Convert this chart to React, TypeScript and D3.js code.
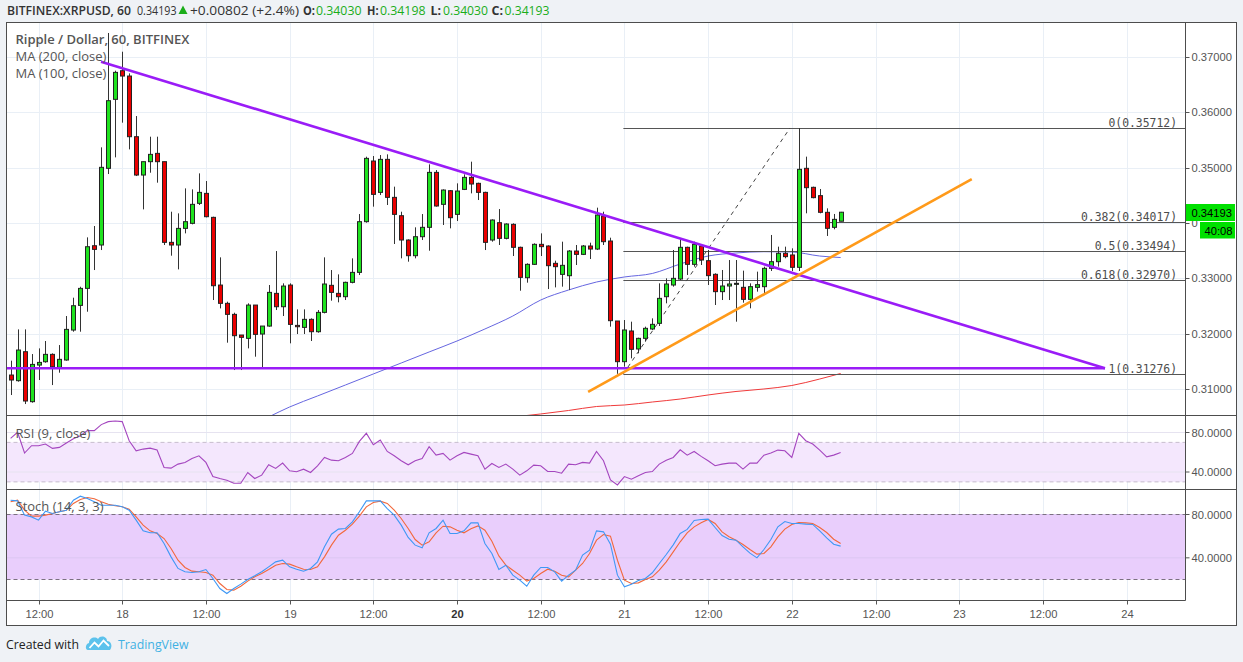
import * as d3 from "d3";

// hourly candles, first one is 17 Aug 08:00 (hour -16 from 18 Aug 00:00)
const BASE = Date.UTC(2018, 7, 18);
const HOUR = 3600e3;
const firstHour = -16;

const opens = [
  0.31254, 0.31152, 0.31675, 0.30773, 0.31434, 0.31494, 0.31627, 0.31392, 0.31525, 0.32066, 0.32511, 0.32818, 0.33588, 0.33601, 0.34985, 0.3623,
  0.36747, 0.36651, 0.35556, 0.34864, 0.35105, 0.35255, 0.35105, 0.33649, 0.33601, 0.33901, 0.33992, 0.34353, 0.34533, 0.341, 0.32878, 0.32548,
  0.32349, 0.31976, 0.31916, 0.32517, 0.31994, 0.32138, 0.32728, 0.32487, 0.32878, 0.3215, 0.32114, 0.32259, 0.32036, 0.32385, 0.32873, 0.32728,
  0.32668, 0.32927, 0.33107, 0.34022, 0.35117, 0.34551, 0.35147, 0.34461, 0.3413, 0.33691, 0.33408, 0.33751, 0.3392, 0.34912, 0.34335, 0.34581,
  0.34154, 0.34605, 0.34822, 0.34714, 0.34551, 0.33691, 0.34004, 0.33721, 0.33974, 0.33559, 0.33011, 0.33252, 0.33613, 0.33583, 0.3327, 0.33071,
  0.33047, 0.33492, 0.33432, 0.33583, 0.33528, 0.34124, 0.33673, 0.32229, 0.31495, 0.32049, 0.31724, 0.31916, 0.32085, 0.32187, 0.32668, 0.32879,
  0.32987, 0.33559, 0.33252, 0.33583, 0.33318, 0.33072, 0.32759, 0.32861, 0.32891, 0.32837, 0.3262, 0.32837, 0.32849, 0.3318, 0.333, 0.33451,
  0.33421, 0.33198, 0.34985, 0.34642, 0.34492, 0.34191, 0.3392, 0.3403,
];
const highs = [
  0.31513, 0.32078, 0.32078, 0.31633, 0.31735, 0.31868, 0.31645, 0.31795, 0.32319, 0.3265, 0.32848, 0.33739, 0.33944, 0.35364, 0.37428, 0.36747,
  0.3709, 0.36699, 0.35929, 0.35105, 0.35556, 0.35556, 0.35105, 0.34202, 0.34172, 0.34623, 0.34605, 0.34894, 0.34756, 0.34112, 0.33378, 0.32578,
  0.32379, 0.31976, 0.32548, 0.32517, 0.32138, 0.32879, 0.33492, 0.32909, 0.32909, 0.32439, 0.32439, 0.32277, 0.32427, 0.33378, 0.33149, 0.33071,
  0.32939, 0.3336, 0.3416, 0.35195, 0.35207, 0.35225, 0.35237, 0.34654, 0.34202, 0.33703, 0.3392, 0.3416, 0.35057, 0.34954, 0.34605, 0.34593,
  0.34714, 0.34876, 0.35105, 0.34726, 0.34563, 0.34064, 0.3425, 0.33992, 0.33992, 0.33571, 0.3327, 0.33631, 0.33811, 0.33595, 0.33318, 0.33661,
  0.3351, 0.33601, 0.33601, 0.33643, 0.34275, 0.34202, 0.33733, 0.32229, 0.32247, 0.32217, 0.31928, 0.32127, 0.32277, 0.32909, 0.32999, 0.33511,
  0.33703, 0.33571, 0.33661, 0.33601, 0.33511, 0.3309, 0.3315, 0.3333, 0.3333, 0.33138, 0.32909, 0.3312, 0.3321, 0.33782, 0.33571, 0.33571,
  0.33541, 0.35712, 0.35196, 0.34654, 0.34612, 0.34263, 0.34161, 0.34198,
];
const lows = [
  0.30893, 0.31134, 0.3073, 0.30755, 0.31164, 0.31476, 0.31073, 0.31296, 0.31513, 0.32036, 0.32036, 0.32397, 0.33149, 0.3351, 0.34882, 0.35183,
  0.35809, 0.35327, 0.34846, 0.34244, 0.34906, 0.34726, 0.33601, 0.33408, 0.33161, 0.33811, 0.33974, 0.34323, 0.341, 0.32608, 0.32457, 0.31838,
  0.31344, 0.31344, 0.31735, 0.31585, 0.31392, 0.32126, 0.32427, 0.32319, 0.31826, 0.31994, 0.31994, 0.31868, 0.32018, 0.32367, 0.32596, 0.32566,
  0.32608, 0.32909, 0.33059, 0.34004, 0.34293, 0.34503, 0.34323, 0.33619, 0.3336, 0.333, 0.3336, 0.33691, 0.33498, 0.34293, 0.33962, 0.33902,
  0.34034, 0.34593, 0.34533, 0.34413, 0.3351, 0.33661, 0.33601, 0.33703, 0.33402, 0.32776, 0.32921, 0.3324, 0.33402, 0.32806, 0.32836, 0.32849,
  0.32788, 0.3324, 0.3342, 0.33348, 0.3351, 0.33601, 0.32127, 0.31276, 0.31405, 0.31555, 0.31646, 0.31856, 0.32067, 0.32139, 0.32548, 0.32849,
  0.32969, 0.3306, 0.3321, 0.3324, 0.32879, 0.32518, 0.32608, 0.32608, 0.32217, 0.3256, 0.32458, 0.32759, 0.32729, 0.33132, 0.3321, 0.33361,
  0.33132, 0.33132, 0.34173, 0.34444, 0.34173, 0.33764, 0.33884, 0.3403,
];
const closes = [
  0.31164, 0.31705, 0.30785, 0.31446, 0.31482, 0.31627, 0.31404, 0.31537, 0.32078, 0.32505, 0.32818, 0.3357, 0.33522, 0.35003, 0.36206, 0.36717,
  0.36651, 0.35556, 0.34864, 0.35105, 0.35237, 0.35105, 0.33649, 0.33601, 0.33901, 0.34022, 0.34335, 0.34551, 0.34112, 0.32866, 0.32548, 0.32349,
  0.31964, 0.31934, 0.32517, 0.31988, 0.32138, 0.32746, 0.32487, 0.3286, 0.32168, 0.32126, 0.32259, 0.32036, 0.32385, 0.32897, 0.32746, 0.32668,
  0.32927, 0.33107, 0.34022, 0.35165, 0.34515, 0.35147, 0.34461, 0.34154, 0.33691, 0.33408, 0.33751, 0.3392, 0.34912, 0.34305, 0.34593, 0.34094,
  0.34575, 0.34822, 0.34702, 0.34551, 0.33649, 0.34052, 0.33721, 0.3398, 0.33559, 0.33017, 0.33252, 0.33613, 0.33571, 0.33228, 0.3321, 0.33234,
  0.33492, 0.33432, 0.33583, 0.33528, 0.34142, 0.33661, 0.32235, 0.31495, 0.32067, 0.31718, 0.31916, 0.32097, 0.32169, 0.32638, 0.32897, 0.32999,
  0.33559, 0.33252, 0.33613, 0.3333, 0.33048, 0.32759, 0.32861, 0.32897, 0.32909, 0.3262, 0.32849, 0.32885, 0.3318, 0.333, 0.33451, 0.33391,
  0.33198, 0.34967, 0.34636, 0.34456, 0.34191, 0.33902, 0.34064, 0.34193,
];

const rsiValues = [
  74.1, 80.2, 59.2, 66.6, 66.6, 68.3, 63.9, 64.9, 69.3, 73.7, 76.8, 81.9, 81.9, 88.0, 91.0, 91.7,
  91.0, 71.7, 61.5, 63.2, 64.2, 62.2, 44.6, 43.9, 48.0, 49.7, 53.7, 56.4, 49.7, 35.4, 33.4, 31.7,
  28.6, 28.6, 39.5, 33.4, 36.8, 47.3, 43.6, 49.0, 41.2, 40.2, 42.9, 39.5, 46.3, 54.7, 52.0, 51.4,
  54.7, 58.8, 71.0, 79.2, 67.6, 72.4, 60.8, 56.4, 51.4, 47.3, 51.4, 53.7, 65.6, 57.1, 58.8, 52.0,
  56.4, 59.8, 58.1, 56.4, 42.9, 48.6, 44.6, 48.0, 42.9, 36.8, 41.2, 46.9, 46.3, 40.5, 40.5, 38.8,
  48.0, 47.3, 49.7, 49.0, 60.8, 51.4, 32.0, 26.9, 35.4, 32.7, 36.1, 39.5, 40.5, 48.0, 52.0, 54.7,
  62.5, 57.1, 60.8, 55.8, 51.4, 46.3, 48.0, 49.0, 49.0, 42.9, 49.0, 49.0, 57.1, 59.2, 62.2, 61.5,
  54.7, 79.2, 71.7, 68.3, 62.2, 55.4, 57.1, 59.8,
];
const stochK = [
  93.2, 92.6, 79.4, 77.8, 74.8, 83.1, 80.9, 82.5, 84.0, 93.2, 96.9, 94.8, 91.7, 88.6, 88.6, 88.6,
  87.1, 84.0, 74.8, 64.9, 63.1, 63.1, 53.2, 40.9, 30.2, 27.1, 26.5, 27.1, 29.2, 20.9, 11.7, 7.1,
  11.7, 15.7, 20.0, 23.4, 27.1, 31.7, 36.3, 37.8, 31.7, 29.5, 27.7, 30.2, 36.3, 50.2, 61.8, 66.5,
  67.1, 73.2, 82.5, 92.6, 92.6, 92.6, 85.5, 79.4, 70.2, 58.8, 51.7, 49.2, 63.1, 67.1, 74.8, 62.5,
  62.5, 64.9, 72.3, 72.3, 53.2, 44.0, 29.2, 33.2, 24.0, 19.4, 13.8, 24.0, 31.1, 31.1, 27.1, 18.5,
  24.0, 28.6, 42.5, 47.1, 64.9, 64.0, 52.6, 24.0, 13.2, 15.7, 19.1, 20.9, 26.2, 34.8, 43.1, 52.0,
  62.5, 66.2, 74.5, 75.4, 75.7, 68.0, 60.6, 57.2, 56.3, 50.2, 44.3, 40.0, 47.7, 56.9, 68.6, 73.5,
  71.7, 71.7, 71.1, 70.8, 64.9, 58.5, 52.6, 50.8,
];
const stochD = [
  91.7, 93.2, 84.0, 78.5, 78.5, 79.4, 80.9, 82.5, 84.0, 90.2, 93.8, 95.7, 94.5, 91.7, 89.5, 88.0,
  87.1, 84.9, 77.8, 70.2, 64.9, 62.5, 57.8, 48.6, 37.8, 31.1, 27.7, 27.1, 26.5, 24.0, 16.3, 10.8,
  10.2, 13.8, 18.5, 22.5, 25.5, 29.2, 33.2, 34.8, 34.2, 31.7, 29.5, 29.2, 31.7, 40.9, 51.7, 60.9,
  65.5, 71.1, 78.5, 87.1, 91.1, 92.3, 90.2, 84.0, 76.3, 67.1, 56.9, 51.7, 54.8, 63.1, 69.2, 68.6,
  65.5, 63.1, 66.8, 69.5, 65.5, 55.4, 41.8, 33.2, 28.6, 24.0, 18.5, 20.9, 25.5, 29.5, 27.7, 24.0,
  22.5, 28.6, 34.8, 44.0, 56.3, 61.5, 60.0, 37.8, 19.4, 16.3, 16.9, 20.0, 22.5, 28.6, 36.3, 45.5,
  54.8, 63.1, 68.6, 72.3, 75.4, 71.7, 64.0, 59.4, 56.3, 52.3, 47.7, 43.4, 44.0, 50.2, 59.4, 66.5,
  70.8, 72.6, 72.3, 71.7, 68.0, 63.4, 57.2, 53.2,
];

// moving averages, read at every 4th hour
const ma100Hours = [21, 24, 28, 32, 36, 40, 44, 48, 52, 56, 60, 64, 68, 72, 76, 80, 84, 88, 92, 96, 100, 103];
const ma100 = [
  0.30497, 0.30677, 0.30876, 0.31074, 0.31273, 0.31471, 0.3167, 0.31868, 0.32085, 0.32319, 0.32608, 0.32789,
  0.32933, 0.33024, 0.33087, 0.33258, 0.33402, 0.33457, 0.3348, 0.33475, 0.33402, 0.33375,
];
const ma200Hours = [56, 60, 64, 68, 72, 76, 80, 84, 88, 92, 96, 100, 103];
const ma200 = [0.30496, 0.30551, 0.30614, 0.30686, 0.30713, 0.30767, 0.30821, 0.30894, 0.30957, 0.31002, 0.31065, 0.31182, 0.31282];

// drawings: [hour, price]
const fallingLine = [[-3.04, 0.3691], [140.9, 0.31376]];
const supportLine = [[-16.6, 0.31376], [140.9, 0.31376]];
const risingLine = [[66.8, 0.30948], [121.8, 0.34792]];
const fibStartHour = 71.85;
const fibDiagonal = [[71.85, 0.31276], [95.74, 0.35712]];
const fibRatios = ["0", "0.382", "0.5", "0.618", "1"];
const fibPrices = [0.35712, 0.34017, 0.33494, 0.3297, 0.31276];

const priceTicks = [0.31, 0.32, 0.33, 0.34, 0.35, 0.36, 0.37];
const oscTicks = [80, 40];

const headerParts = [
  { text: "BITFINEX:XRPUSD, 60", x: 7, w: 124, weight: 600, color: "#333" },
  { text: "0.34193", x: 137, w: 39.5, weight: 400, color: "#333" },
  { text: "+0.00802 (+2.4%)", x: 190, w: 109, weight: 400, color: "#333" },
  { text: "O:", x: 303, w: 12, weight: 700, color: "#333" },
  { text: "0.34030", x: 316, w: 45.5, weight: 400, color: "#1aad1a" },
  { text: "H:", x: 367, w: 11.5, weight: 700, color: "#333" },
  { text: "0.34198", x: 380, w: 45.5, weight: 400, color: "#1aad1a" },
  { text: "L:", x: 430.5, w: 10.5, weight: 700, color: "#333" },
  { text: "0.34030", x: 443, w: 45, weight: 400, color: "#1aad1a" },
  { text: "C:", x: 491.5, w: 11.5, weight: 700, color: "#333" },
  { text: "0.34193", x: 504.5, w: 45, weight: 400, color: "#1aad1a" },
];

const tAt = (h: number) => new Date(BASE + h * HOUR);

const LEFT = 6.5;
const AXIS = 1185.5;
const RIGHT = 1236.5;
const TOP = 22.5;
const PRICE_BOTTOM = 415.5;
const RSI_BOTTOM = 489.5;
const STOCH_BOTTOM = 600.5;
const FRAME_BOTTOM = 625.5;

const AXIS_FONT = "'Liberation Sans', Arial, sans-serif";
const UI_FONT = "'Open Sans', 'Noto Sans', sans-serif";
const GRID = "#e9eff6";
const FRAME = "#4d4d4d";
const LABEL = "#555";
const PURPLE = "#9a1cf7";

export default function App() {
  const x = d3.scaleUtc().domain([tAt(-16.56), tAt(152.37)]).range([6.7, 1185]);
  const y = d3.scaleLinear().domain([0.31, 0.37]).range([389.1, 56.7]);
  const yRsi = d3.scaleLinear().domain([40, 80]).range([472, 432.5]);
  const yStoch = d3.scaleLinear().domain([20, 80]).range([579.5, 514.5]);

  const hourX = (h: number) => x(tAt(h));
  const timeTicks = d3.utcHour.every(12)!.range(tAt(-16.56), tAt(152.37));
  const tickLabel = (d: Date) => (d.getUTCHours() === 0 ? String(d.getUTCDate()) : "12:00");

  const candles = opens.map((o, i) => ({
    h: firstHour + i,
    o,
    hi: highs[i],
    lo: lows[i],
    c: closes[i],
  }));

  const seriesLine = (vals: number[], ys: d3.ScaleLinear<number, number>) =>
    d3
      .line<number>()
      .x((_, i) => hourX(firstHour + i))
      .y(v => ys(v))(vals) || "";

  const maLine = (hours: number[], vals: number[]) =>
    d3
      .line<number>()
      .curve(d3.curveMonotoneX)
      .x((_, i) => hourX(hours[i]))
      .y(v => y(v))(vals) || "";

  const seg = (pts: number[][]) =>
    d3
      .line<number[]>()
      .x(p => hourX(p[0]))
      .y(p => y(p[1]))(pts) || "";

  const plotW = AXIS - LEFT;

  return (
    <svg
      width={1243}
      height={662}
      style={{ position: "absolute", left: 0, top: 0, background: "#eff2f6" }}
    >
      <defs>
        <clipPath id="pricePane">
          <rect x={LEFT + 0.5} y={TOP + 0.5} width={plotW - 1} height={PRICE_BOTTOM - TOP - 1} />
        </clipPath>
        <clipPath id="rsiPane">
          <rect x={LEFT + 0.5} y={PRICE_BOTTOM + 0.5} width={plotW - 1} height={RSI_BOTTOM - PRICE_BOTTOM - 1} />
        </clipPath>
        <clipPath id="stochPane">
          <rect x={LEFT + 0.5} y={RSI_BOTTOM + 0.5} width={plotW - 1} height={STOCH_BOTTOM - RSI_BOTTOM - 1} />
        </clipPath>
        <clipPath id="underBadge">
          <rect x={AXIS} y={TOP} width={14} height={STOCH_BOTTOM - TOP} />
        </clipPath>
      </defs>

      {/* header */}
      <g fontFamily={UI_FONT} fontSize={13}>
        {headerParts.map((p, i) => (
          <text key={i} x={p.x} y={15} fill={p.color} fontWeight={p.weight} textLength={p.w} lengthAdjust="spacingAndGlyphs">
            {p.text}
          </text>
        ))}
        <path d="M178.5,14 L183,5.5 L187.5,14 Z" fill="#1aad1a" />
      </g>

      {/* chart frame */}
      <rect x={LEFT} y={TOP} width={RIGHT - LEFT} height={FRAME_BOTTOM - TOP} fill="#fff" />

      {/* grid */}
      <g stroke={GRID} strokeWidth={1}>
        {timeTicks.map((d, i) => (
          <line key={i} x1={Math.round(x(d)) + 0.5} x2={Math.round(x(d)) + 0.5} y1={TOP} y2={STOCH_BOTTOM} />
        ))}
        {priceTicks.map(p => (
          <line key={p} x1={LEFT} x2={AXIS} y1={Math.round(y(p)) + 0.5} y2={Math.round(y(p)) + 0.5} />
        ))}
      </g>

      {/* RSI pane */}
      <g clipPath="url(#rsiPane)">
        <rect x={LEFT} y={yRsi(70)} width={plotW} height={yRsi(30) - yRsi(70)} fill="#f4e7fd" />
        {oscTicks.map(v => (
          <line key={v} x1={LEFT} x2={AXIS} y1={yRsi(v)} y2={yRsi(v)} stroke="#e6e3f0" />
        ))}
        {[70, 30].map(v => (
          <line key={v} x1={LEFT} x2={AXIS} y1={yRsi(v)} y2={yRsi(v)} stroke="#c6bccd" strokeDasharray="4,3" />
        ))}
        <path d={seriesLine(rsiValues, yRsi)} fill="none" stroke="#a446bf" strokeWidth={1.1} />
      </g>

      {/* Stoch pane */}
      <g clipPath="url(#stochPane)">
        <rect x={LEFT} y={yStoch(80)} width={plotW} height={yStoch(20) - yStoch(80)} fill="#e9cefc" />
        {oscTicks.map(v => (
          <line key={v} x1={LEFT} x2={AXIS} y1={yStoch(v)} y2={yStoch(v)} stroke="#dcc6f2" />
        ))}
        {[80, 20].map(v => (
          <line key={v} x1={LEFT} x2={AXIS} y1={yStoch(v)} y2={yStoch(v)} stroke="#7b7080" strokeDasharray="4,3" />
        ))}
        <path d={seriesLine(stochD, yStoch)} fill="none" stroke="#f2683c" strokeWidth={1.1} />
        <path d={seriesLine(stochK, yStoch)} fill="none" stroke="#3f98f5" strokeWidth={1.1} />
      </g>

      {/* price pane */}
      <g clipPath="url(#pricePane)">
        <path d={maLine(ma200Hours, ma200)} fill="none" stroke="#f03a3a" strokeWidth={1} />
        <path d={maLine(ma100Hours, ma100)} fill="none" stroke="#6666e0" strokeWidth={1} />

        {/* fibonacci retracement */}
        {fibPrices.map((p, i) => (
          <g key={i}>
            <line
              x1={hourX(fibStartHour)}
              x2={AXIS}
              y1={Math.round(y(p)) + 0.5}
              y2={Math.round(y(p)) + 0.5}
              stroke="#555"
              strokeWidth={1}
            />
            <text
              x={1177}
              y={Math.round(y(p)) - 1.5}
              textAnchor="end"
              fontFamily="'DejaVu Sans Mono', monospace"
              fontSize={11.4}
              fill="#4d4d4d"
            >
              {`${fibRatios[i]}(${p.toFixed(5)})`}
            </text>
          </g>
        ))}
        <path d={seg(fibDiagonal)} fill="none" stroke="#444" strokeWidth={1} strokeDasharray="4,4" />

        {/* candles */}
        {candles.map(d => {
          const cx = Math.round(hourX(d.h)) + 0.5;
          const up = d.c >= d.o;
          const top = y(Math.max(d.o, d.c));
          const bot = y(Math.min(d.o, d.c));
          return (
            <g key={d.h}>
              <line x1={cx} x2={cx} y1={y(d.hi)} y2={y(d.lo)} stroke="#333" strokeWidth={1} />
              <rect
                x={cx - 2}
                y={top}
                width={4}
                height={Math.max(bot - top, 1)}
                fill={up ? "#1fe21f" : "#ea0000"}
                stroke="#222"
                strokeWidth={1}
              />
            </g>
          );
        })}

        {/* trend lines */}
        <path d={seg(supportLine)} fill="none" stroke={PURPLE} strokeWidth={2.6} />
        <path d={seg(fallingLine)} fill="none" stroke={PURPLE} strokeWidth={2.6} />
        <path d={seg(risingLine)} fill="none" stroke="#ff9a1a" strokeWidth={2.6} />
      </g>

      {/* legends */}
      <g fontFamily={UI_FONT} fontSize={13} fill={LABEL}>
        <text x={15.5} y={44} fontWeight={600}>
          Ripple / Dollar, 60, BITFINEX
        </text>
        <text x={15.5} y={61}>
          MA (200, close)
        </text>
        <text x={15.5} y={78}>
          MA (100, close)
        </text>
        <text x={15.5} y={438}>
          RSI (9, close)
        </text>
        <text x={15.5} y={511}>
          Stoch (14, 3, 3)
        </text>
      </g>

      {/* axes & separators */}
      <g stroke={FRAME} strokeWidth={1} fill="none">
        <rect x={LEFT} y={TOP} width={RIGHT - LEFT} height={FRAME_BOTTOM - TOP} />
        <line x1={AXIS} x2={AXIS} y1={TOP} y2={STOCH_BOTTOM} />
        <line x1={LEFT} x2={RIGHT} y1={PRICE_BOTTOM} y2={PRICE_BOTTOM} />
        <line x1={LEFT} x2={RIGHT} y1={RSI_BOTTOM} y2={RSI_BOTTOM} />
        <line x1={LEFT} x2={AXIS} y1={STOCH_BOTTOM} y2={STOCH_BOTTOM} />
      </g>

      <g fontFamily={AXIS_FONT} fontSize={11.2} fill={LABEL}>
        {priceTicks.map(p => {
          // the 0.34000 label sits under the last-price badges: only its first glyph shows
          const hidden = Math.abs(p - 0.34) < 1e-9;
          return (
            <g key={p}>
              <line x1={AXIS} x2={AXIS + 4} y1={Math.round(y(p)) + 0.5} y2={Math.round(y(p)) + 0.5} stroke={LABEL} />
              {hidden ? (
                <text x={1191.5} y={y(p) + 4} clipPath="url(#underBadge)">
                  0
                </text>
              ) : (
                <text x={1191.5} y={y(p) + 4}>
                  {p.toFixed(5)}
                </text>
              )}
            </g>
          );
        })}
        {oscTicks.map(v => (
          <g key={"r" + v}>
            <line x1={AXIS} x2={AXIS + 4} y1={yRsi(v)} y2={yRsi(v)} stroke={LABEL} />
            <text x={1191.5} y={yRsi(v) + 4}>
              {v.toFixed(4)}
            </text>
          </g>
        ))}
        {oscTicks.map(v => (
          <g key={"s" + v}>
            <line x1={AXIS} x2={AXIS + 4} y1={yStoch(v)} y2={yStoch(v)} stroke={LABEL} />
            <text x={1191.5} y={yStoch(v) + 4}>
              {v.toFixed(4)}
            </text>
          </g>
        ))}
        {timeTicks.map((d, i) => {
          const tx = Math.round(x(d)) + 0.5;
          const lbl = tickLabel(d);
          return (
            <g key={i}>
              <line x1={tx} x2={tx} y1={STOCH_BOTTOM} y2={STOCH_BOTTOM + 4} stroke={LABEL} />
              <text x={tx} y={618} textAnchor="middle" fontWeight={lbl === "20" ? 700 : 400} fill={lbl === "20" ? "#333" : LABEL}>
                {lbl}
              </text>
            </g>
          );
        })}

        {/* last price badges */}
        <rect x={1186} y={204} width={49} height={17} fill="#00e000" />
        <text x={1191.5} y={216.5} fill="#000">
          0.34193
        </text>
        <rect x={1200} y={222} width={35} height={16.5} fill="#00e000" />
        <text x={1204.5} y={234.5} fill="#000">
          40:08
        </text>
      </g>

      {/* footer */}
      <g fontFamily={UI_FONT} fontSize={13.5}>
        <text x={6} y={649} fill="#222" textLength={73} lengthAdjust="spacingAndGlyphs">
          Created with
        </text>
        <path
          d="M88,650 C85,650 85,644 89,643 C89,638 95,636 98,639 C100,635 107,636 107,641 C111,641 113,646 110,650 Z"
          fill="#5cc2ec"
        />
        <polyline points="89.5,648 94.5,642.5 98.5,646.5 103.5,640.5 109,646" fill="none" stroke="#fff" strokeWidth={1.8} />
        <text x={118} y={649} fill="#3fb1e3" textLength={70.5} lengthAdjust="spacingAndGlyphs">
          TradingView
        </text>
      </g>
    </svg>
  );
}
